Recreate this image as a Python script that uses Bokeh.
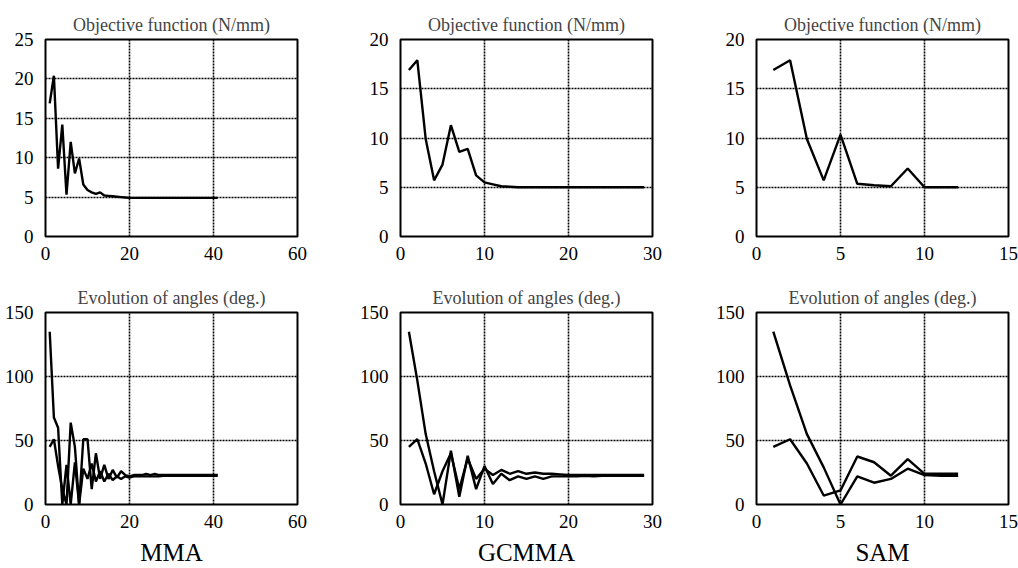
from bokeh.plotting import figure
from bokeh.layouts import column, row
from bokeh.models import Range1d, FixedTicker
from bokeh.embed import file_html
from bokeh.resources import INLINE

# ---------------- data ----------------
mma_iter = list(range(1, 42))
mma_obj = [16.9, 20.4, 8.6, 14.2, 5.3, 12.0, 8.0, 9.9, 6.6, 5.9,
           5.6, 5.4, 5.6, 5.2, 5.15, 5.1, 5.05, 5.0, 4.95, 4.9,
           4.9, 4.9, 4.9, 4.9, 4.9, 4.9, 4.9, 4.9, 4.9, 4.9,
           4.9, 4.9, 4.9, 4.9, 4.9, 4.9, 4.9, 4.9, 4.9, 4.9, 4.9]
mma_ang1 = [135, 68, 60, 0, 31, 0, 33, 0, 28, 20,
            32, 18, 26, 18, 24, 19, 22, 20, 22, 21,
            22, 22, 22, 22, 22, 22, 22, 22.5, 22.5, 22.5,
            22.5, 22.5, 22.5, 22.5, 22.5, 22.5, 22.5, 22.5, 22.5, 22.5, 22.5]
mma_ang2 = [45, 51, 30, 12, 0, 64, 45, 0, 51, 51,
            12, 40, 20, 31, 20, 27, 21, 26, 23, 22,
            23, 23, 23, 24, 23, 24, 23, 23, 23, 23,
            23, 23, 23, 23, 23, 23, 23, 23, 23, 23, 23]

gc_iter = list(range(1, 30))
gc_obj = [16.9, 17.9, 9.9, 5.7, 7.3, 11.3, 8.6, 8.9, 6.2, 5.5,
          5.3, 5.1, 5.05, 5.0, 5.0, 5.0, 5.0, 5.0, 5.0, 5.0,
          5.0, 5.0, 5.0, 5.0, 5.0, 5.0, 5.0, 5.0, 5.0]
gc_ang1 = [135, 97, 55, 26, 0, 42, 6, 38, 12, 30,
           16, 24, 19, 22, 20, 22, 20, 22, 22, 22,
           22, 22.5, 22, 22.5, 22.5, 22.5, 22.5, 22.5, 22.5]
gc_ang2 = [45, 51, 32, 8, 26, 40, 12, 36, 20, 28,
           23, 27, 24, 26, 24, 25, 24, 24, 23.5, 23,
           23, 23, 23, 23, 23, 23, 23, 23, 23]

sam_iter = list(range(1, 13))
sam_obj = [16.9, 17.9, 9.9, 5.7, 10.35, 5.35, 5.2, 5.1, 6.9, 5.0, 5.0, 5.0]
sam_ang1 = [135, 93, 55, 29, 0, 22, 17, 20, 28, 23, 22.5, 22.5]
sam_ang2 = [45, 51, 32, 7, 11, 37.5, 33, 22.5, 35.5, 24, 24, 24]

obj_title = "Objective function (N/mm)"
ang_title = "Evolution of angles (deg.)"
method_names = ["MMA", "GCMMA", "SAM"]

x_max = [60, 30, 15]
x_ticks = [[0, 20, 40, 60], [0, 10, 20, 30], [0, 5, 10, 15]]
obj_max = [25, 20, 20]
obj_ticks = [[0, 5, 10, 15, 20, 25], [0, 5, 10, 15, 20], [0, 5, 10, 15, 20]]
ang_ticks = [0, 50, 100, 150]

FONT = "Liberation Serif"
col_widths = [340, 340, 338]
left_borders = [45, 60, 76]


def make_fig(col, top, title, xmax, xt, ymax, yt, xlabel=None):
    w = col_widths[col]
    lb = left_borders[col]
    rb = w - lb - 252
    if top:
        h, tb, bb = 280, 39, 44
    else:
        h, tb, bb = 288, 32, 60
    p = figure(width=w, height=h, output_backend="svg", toolbar_location=None,
               x_range=Range1d(0, xmax), y_range=Range1d(0, ymax),
               min_border_left=lb, min_border_right=rb,
               min_border_top=tb, min_border_bottom=bb,
               title=title)
    p.title.text_font = FONT
    p.title.text_font_size = "18px"
    p.title.text_font_style = "normal"
    p.title.align = "center"
    p.title.standoff = 10
    p.outline_line_color = "black"
    p.outline_line_width = 2
    p.background_fill_color = "white"
    p.border_fill_color = "white"
    for ax in (p.xaxis[0], p.yaxis[0]):
        ax.axis_line_color = None
        ax.major_tick_line_color = None
        ax.minor_tick_line_color = None
        ax.major_label_text_font = FONT
        ax.major_label_text_font_size = "19px"
        ax.major_label_text_color = "black"
    p.xaxis[0].ticker = FixedTicker(ticks=xt)
    p.yaxis[0].ticker = FixedTicker(ticks=yt)
    p.xaxis[0].major_label_standoff = 4
    p.yaxis[0].major_label_standoff = 6
    if xlabel:
        p.xaxis[0].axis_label = xlabel
        p.xaxis[0].axis_label_text_font = FONT
        p.xaxis[0].axis_label_text_font_size = "25px"
        p.xaxis[0].axis_label_text_font_style = "normal"
        p.xaxis[0].axis_label_text_color = "black"
        p.xaxis[0].axis_label_standoff = 8
    for g in (p.xgrid[0], p.ygrid[0]):
        g.grid_line_color = "black"
        g.grid_line_dash = "2 1"
        g.grid_line_width = 1.6
    p.xgrid[0].ticker = FixedTicker(ticks=xt)
    p.ygrid[0].ticker = FixedTicker(ticks=yt)
    return p


iters = [mma_iter, gc_iter, sam_iter]
objs = [mma_obj, gc_obj, sam_obj]
ang1s = [mma_ang1, gc_ang1, sam_ang1]
ang2s = [mma_ang2, gc_ang2, sam_ang2]

top_figs = []
bot_figs = []
for i in range(3):
    pt = make_fig(i, True, obj_title, x_max[i], x_ticks[i], obj_max[i], obj_ticks[i])
    pt.line(iters[i], objs[i], line_color="black", line_width=2.4)
    top_figs.append(pt)
    pb = make_fig(i, False, ang_title, x_max[i], x_ticks[i], 150, ang_ticks, method_names[i])
    pb.line(iters[i], ang1s[i], line_color="black", line_width=2.4)
    pb.line(iters[i], ang2s[i], line_color="black", line_width=2.4)
    bot_figs.append(pb)

layout = column(row(*top_figs, spacing=0), row(*bot_figs, spacing=0), spacing=0)

open("out.html", "w").write(file_html(layout, INLINE))
